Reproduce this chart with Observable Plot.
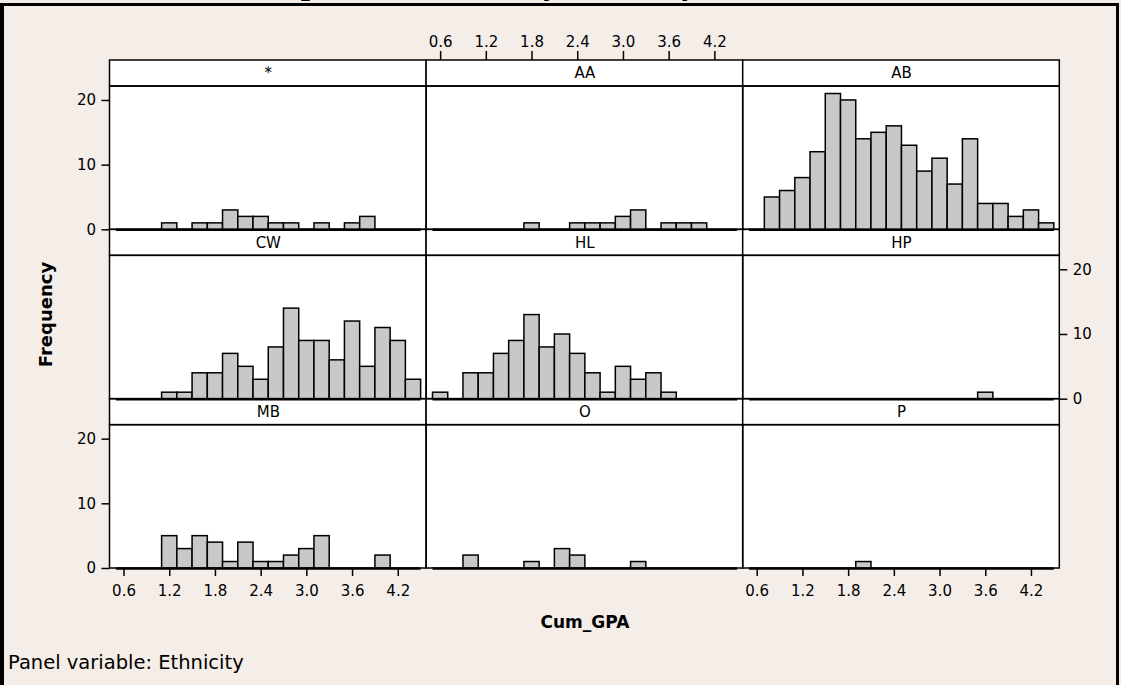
<!DOCTYPE html>
<html>
<head>
<meta charset="utf-8">
<script src="https://cdn.jsdelivr.net/npm/d3@7"></script>
<script src="https://cdn.jsdelivr.net/npm/@observablehq/plot@0.6"></script>
<style>
  html, body { margin: 0; padding: 0; background: #F5EDE7; }
  #page { position: relative; width: 1121px; height: 685px; overflow: hidden; background: #F5EDE7; }
  #title { position: absolute; left: 233px; top: -35px; font: bold 33px "Liberation Serif", serif; white-space: nowrap; color: #000; }
  #frame { position: absolute; left: 0; top: 3px; width: 1119px; height: 700px; border-left: 4px solid #000; border-top: 3px solid #000; border-right: 3px solid #000; box-sizing: border-box; }
  #chart { position: absolute; left: 0; top: 0; }
  #caption { position: absolute; left: 8px; top: 651px; font: 19.5px "DejaVu Sans", sans-serif; color: #000; white-space: nowrap; }
</style>
</head>
<body>
<div id="page">
  <div id="title">Comparison of GPA by Ethnicity</div>
  <div id="frame"></div>
  <div id="chart"></div>
  <div id="caption">Panel variable: Ethnicity</div>
</div>
<script>
// ---- data ----
const ethnicities = ["*", "AA", "AB", "CW", "HL", "HP", "MB", "O", "P"];
// bin midpoints of Cum_GPA (bins 0.2 wide)
const binMids = [0.6, 0.8, 1.0, 1.2, 1.4, 1.6, 1.8, 2.0, 2.2, 2.4, 2.6, 2.8, 3.0, 3.2, 3.4, 3.6, 3.8, 4.0, 4.2, 4.4];
const countsStar = [0, 0, 0, 1, 0, 1, 1, 3, 2, 2, 1, 1, 0, 1, 0, 1, 2, 0, 0, 0];
const countsAA   = [0, 0, 0, 0, 0, 0, 1, 0, 0, 1, 1, 1, 2, 3, 0, 1, 1, 1, 0, 0];
const countsAB   = [0, 5, 6, 8, 12, 21, 20, 14, 15, 16, 13, 9, 11, 7, 14, 4, 4, 2, 3, 1];
const countsCW   = [0, 0, 0, 1, 1, 4, 4, 7, 5, 3, 8, 14, 9, 9, 6, 12, 5, 11, 9, 3];
const countsHL   = [1, 0, 4, 4, 7, 9, 13, 8, 10, 7, 4, 1, 5, 3, 4, 1, 0, 0, 0, 0];
const countsHP   = [0, 0, 0, 0, 0, 0, 0, 0, 0, 0, 0, 0, 0, 0, 0, 1, 0, 0, 0, 0];
const countsMB   = [0, 0, 0, 5, 3, 5, 4, 1, 4, 1, 1, 2, 3, 5, 0, 0, 0, 2, 0, 0];
const countsO    = [0, 0, 2, 0, 0, 0, 1, 0, 3, 2, 0, 0, 0, 1, 0, 0, 0, 0, 0, 0];
const countsP    = [0, 0, 0, 0, 0, 0, 0, 1, 0, 0, 0, 0, 0, 0, 0, 0, 0, 0, 0, 0];
const xTicks = [0.6, 1.2, 1.8, 2.4, 3.0, 3.6, 4.2];
const yTicks = [0, 10, 20];
const xTitle = "Cum_GPA";
const yTitle = "Frequency";

// ---- layout / scale configuration ----
const counts = [countsStar, countsAA, countsAB, countsCW, countsHL, countsHP, countsMB, countsO, countsP];
const NCOL = 3;
const XDOM = [0.416, 4.572];
const YMAX = 22.16;     // top of each panel's plotting area
const YTOP = 26.18;     // top of the strip above it
const binW = binMids[1] - binMids[0];
const binLo = binMids[0] - binW / 2;
const binHi = binMids[binMids.length - 1] + binW / 2;

const panels = ethnicities.map((label, i) => ({label, col: i % NCOL, row: Math.floor(i / NCOL)}));
const bars = panels.flatMap((p, i) =>
  counts[i].map((c, j) => ({col: p.col, row: p.row, x1: binMids[j] - binW / 2, x2: binMids[j] + binW / 2, c}))
).filter(d => d.c > 0);

const bottomCols = [0, 2], topCols = [1], leftRows = [0, 2], rightRows = [1];
const lastRow = 2;
const bottomTicks = bottomCols.flatMap(col => xTicks.map(v => ({col, row: lastRow, v})));
const topTicks = topCols.flatMap(col => xTicks.map(v => ({col, row: 0, v})));
const leftTicks = leftRows.flatMap(row => yTicks.map(v => ({col: 0, row, v})));
const rightTicks = rightRows.flatMap(row => yTicks.map(v => ({col: NCOL - 1, row, v})));
const fmt = d3.format(".1f");

const font = "DejaVu Sans, sans-serif";
const F = {fx: "col", fy: "row"};

const chart = Plot.plot({
  width: 1121,
  height: 640,
  marginLeft: 109.5,
  marginRight: 61.7,
  marginTop: 60,
  marginBottom: 72,
  style: {background: "transparent", fontFamily: font, fontSize: "15px", color: "#000", overflow: "visible"},
  x: {domain: XDOM, axis: null},
  y: {domain: [0, YTOP], axis: null},
  fx: {domain: [0, 1, 2], padding: 0, axis: null, round: false},
  fy: {domain: [0, 1, 2], padding: 0, axis: null, round: false},
  marks: [
    // panel backgrounds
    Plot.rect(panels, {...F, x1: XDOM[0], x2: XDOM[1], y1: 0, y2: YMAX, fill: "white"}),
    // strips
    Plot.rect(panels, {...F, x1: XDOM[0], x2: XDOM[1], y1: YMAX, y2: YTOP, fill: "white", stroke: "#000", strokeWidth: 1.5}),
    Plot.text(panels, {...F, x: (XDOM[0] + XDOM[1]) / 2, y: (YMAX + YTOP) / 2, text: "label", fontSize: 15, fill: "#000"}),
    // zero baseline of all bins
    Plot.ruleY(panels, {...F, y: 0, x1: binLo, x2: binHi, stroke: "#000", strokeWidth: 2.5}),
    // histogram bars
    Plot.rect(bars, {...F, x1: "x1", x2: "x2", y1: 0, y2: "c", fill: "#C8C8C8", stroke: "#000", strokeWidth: 1.5}),
    // panel frames
    Plot.rect(panels, {...F, x1: XDOM[0], x2: XDOM[1], y1: 0, y2: YMAX, fill: "none", stroke: "#000", strokeWidth: 1.5}),
    // bottom x axes
    Plot.ruleX(bottomTicks, {...F, x: "v", y1: 0, y2: 0, insetBottom: -8, stroke: "#000", strokeWidth: 1.5}),
    Plot.text(bottomTicks, {...F, x: "v", y: 0, dy: 23, text: d => fmt(d.v), fontSize: 15, fill: "#000"}),
    // top x axis
    Plot.ruleX(topTicks, {...F, x: "v", y1: YTOP, y2: YTOP, insetTop: -9, stroke: "#000", strokeWidth: 1.5}),
    Plot.text(topTicks, {...F, x: "v", y: YTOP, dy: -18, text: d => fmt(d.v), fontSize: 15, fill: "#000"}),
    // left y axes
    Plot.ruleY(leftTicks, {...F, y: "v", x1: XDOM[0], x2: XDOM[0], insetLeft: -8, stroke: "#000", strokeWidth: 1.5}),
    Plot.text(leftTicks, {...F, x: XDOM[0], y: "v", dx: -14, textAnchor: "end", text: d => String(d.v), fontSize: 15, fill: "#000"}),
    // right y axis
    Plot.ruleY(rightTicks, {...F, y: "v", x1: XDOM[1], x2: XDOM[1], insetRight: -8, stroke: "#000", strokeWidth: 1.5}),
    Plot.text(rightTicks, {...F, x: XDOM[1], y: "v", dx: 13, textAnchor: "start", text: d => String(d.v), fontSize: 15, fill: "#000"}),
    // axis titles
    Plot.text([{col: 0, row: 1}], {...F, frameAnchor: "left", textAnchor: "middle", dx: -64, rotate: -90, text: () => yTitle, fontSize: 18, fontWeight: "bold", fill: "#000"}),
    Plot.text([{col: 1, row: 2}], {...F, frameAnchor: "bottom", lineAnchor: "middle", dy: 54, text: () => xTitle, fontSize: 17, fontWeight: "bold", fill: "#000"})
  ]
});
document.getElementById("chart").append(chart);
</script>
</body>
</html>
